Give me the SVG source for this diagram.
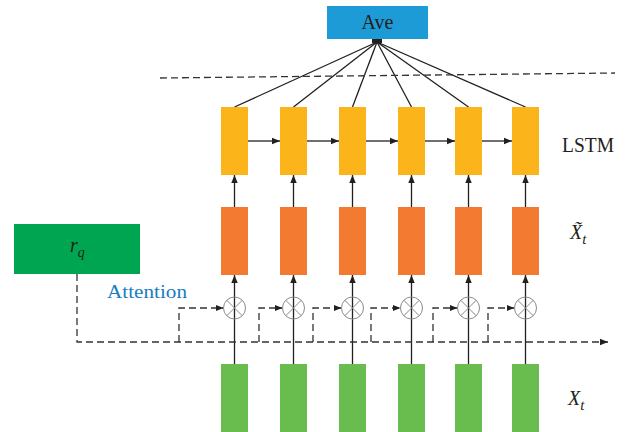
<svg xmlns="http://www.w3.org/2000/svg" width="630" height="432" viewBox="0 0 630 432">
<defs>
<marker id="ah" markerUnits="userSpaceOnUse" markerWidth="8" markerHeight="8" viewBox="0 0 8 8" refX="8" refY="4" orient="auto">
<path d="M0,0.8 L8,4 L0,7.2 Z" fill="#231f20"/>
</marker>
</defs>
<style>
.lstm{fill:#fbb51b}
.xt{fill:#f37b31}
.in{fill:#69bd4f}
.ln{stroke:#231f20;stroke-width:1.3;fill:none}
.dash{stroke:#333;stroke-width:1.3;fill:none;stroke-dasharray:7 4}
.mul{stroke:#8a8a8a;stroke-width:1;fill:none}
.lbl{font-family:"Liberation Serif",serif;fill:#231f20}
</style>
<rect width="630" height="432" fill="#fff"/>

<g id="connectors">
  <line class="ln" x1="377" y1="42" x2="234.5" y2="107"/>
  <line class="ln" x1="377" y1="42" x2="293.5" y2="107"/>
  <line class="ln" x1="377" y1="42" x2="352.5" y2="107"/>
  <line class="ln" x1="377" y1="42" x2="411.5" y2="107"/>
  <line class="ln" x1="377" y1="42" x2="468.5" y2="107"/>
  <line class="ln" x1="377" y1="42" x2="525.5" y2="107"/>
  <rect x="372" y="39" width="10" height="4" fill="#231f20"/>
  <line class="dash" x1="160" y1="78" x2="615" y2="73" stroke-dasharray="10 5"/>
  <line class="ln" x1="248" y1="141" x2="280" y2="141" marker-end="url(#ah)"/>
  <line class="ln" x1="307" y1="141" x2="339" y2="141" marker-end="url(#ah)"/>
  <line class="ln" x1="366" y1="141" x2="398" y2="141" marker-end="url(#ah)"/>
  <line class="ln" x1="425" y1="141" x2="455" y2="141" marker-end="url(#ah)"/>
  <line class="ln" x1="482" y1="141" x2="512" y2="141" marker-end="url(#ah)"/>
  <line class="ln" x1="234.5" y1="207" x2="234.5" y2="175" marker-end="url(#ah)"/>
  <line class="ln" x1="293.5" y1="207" x2="293.5" y2="175" marker-end="url(#ah)"/>
  <line class="ln" x1="352.5" y1="207" x2="352.5" y2="175" marker-end="url(#ah)"/>
  <line class="ln" x1="411.5" y1="207" x2="411.5" y2="175" marker-end="url(#ah)"/>
  <line class="ln" x1="468.5" y1="207" x2="468.5" y2="175" marker-end="url(#ah)"/>
  <line class="ln" x1="525.5" y1="207" x2="525.5" y2="175" marker-end="url(#ah)"/>
  <line class="ln" x1="234.5" y1="364" x2="234.5" y2="275" marker-end="url(#ah)"/>
  <line class="ln" x1="293.5" y1="364" x2="293.5" y2="275" marker-end="url(#ah)"/>
  <line class="ln" x1="352.5" y1="364" x2="352.5" y2="275" marker-end="url(#ah)"/>
  <line class="ln" x1="411.5" y1="364" x2="411.5" y2="275" marker-end="url(#ah)"/>
  <line class="ln" x1="468.5" y1="364" x2="468.5" y2="275" marker-end="url(#ah)"/>
  <line class="ln" x1="525.5" y1="364" x2="525.5" y2="275" marker-end="url(#ah)"/>
  <path class="dash" d="M77,274 V342 H608" marker-end="url(#ah)"/>
  <path class="dash" d="M179,342 V308 H223.5" marker-end="url(#ah)"/>
  <path class="dash" d="M259,342 V308 H282.5" marker-end="url(#ah)"/>
  <path class="dash" d="M313,342 V308 H341.5" marker-end="url(#ah)"/>
  <path class="dash" d="M371,342 V308 H400.5" marker-end="url(#ah)"/>
  <path class="dash" d="M433,342 V308 H457.5" marker-end="url(#ah)"/>
  <path class="dash" d="M488,342 V308 H514.5" marker-end="url(#ah)"/>
</g>

<g id="ave">
  <rect x="327" y="6" width="101" height="33" fill="#1c9bd7"/>
  <text class="lbl" x="377.5" y="28.5" font-size="20" text-anchor="middle">Ave</text>
</g>

<g id="lstm">
  <rect class="lstm" x="221" y="107" width="27" height="68"/>
  <rect class="lstm" x="280" y="107" width="27" height="68"/>
  <rect class="lstm" x="339" y="107" width="27" height="68"/>
  <rect class="lstm" x="398" y="107" width="27" height="68"/>
  <rect class="lstm" x="455" y="107" width="27" height="68"/>
  <rect class="lstm" x="512" y="107" width="27" height="68"/>
</g>

<g id="xtilde">
  <rect class="xt" x="221" y="207" width="27" height="68"/>
  <rect class="xt" x="280" y="207" width="27" height="68"/>
  <rect class="xt" x="339" y="207" width="27" height="68"/>
  <rect class="xt" x="398" y="207" width="27" height="68"/>
  <rect class="xt" x="455" y="207" width="27" height="68"/>
  <rect class="xt" x="512" y="207" width="27" height="68"/>
</g>

<g id="inputs">
  <rect class="in" x="221" y="364" width="27" height="68"/>
  <rect class="in" x="280" y="364" width="27" height="68"/>
  <rect class="in" x="339" y="364" width="27" height="68"/>
  <rect class="in" x="398" y="364" width="27" height="68"/>
  <rect class="in" x="455" y="364" width="27" height="68"/>
  <rect class="in" x="512" y="364" width="27" height="68"/>
</g>

<g id="multipliers">
  <g transform="translate(234.5,308)"><circle class="mul" r="11"/><path class="mul" d="M-7.8,-7.8 L7.8,7.8 M7.8,-7.8 L-7.8,7.8"/></g>
  <g transform="translate(293.5,308)"><circle class="mul" r="11"/><path class="mul" d="M-7.8,-7.8 L7.8,7.8 M7.8,-7.8 L-7.8,7.8"/></g>
  <g transform="translate(352.5,308)"><circle class="mul" r="11"/><path class="mul" d="M-7.8,-7.8 L7.8,7.8 M7.8,-7.8 L-7.8,7.8"/></g>
  <g transform="translate(411.5,308)"><circle class="mul" r="11"/><path class="mul" d="M-7.8,-7.8 L7.8,7.8 M7.8,-7.8 L-7.8,7.8"/></g>
  <g transform="translate(468.5,308)"><circle class="mul" r="11"/><path class="mul" d="M-7.8,-7.8 L7.8,7.8 M7.8,-7.8 L-7.8,7.8"/></g>
  <g transform="translate(525.5,308)"><circle class="mul" r="11"/><path class="mul" d="M-7.8,-7.8 L7.8,7.8 M7.8,-7.8 L-7.8,7.8"/></g>
</g>

<g id="rq">
  <rect x="14" y="224" width="126" height="50" fill="#00a551"/>
  <text class="lbl" x="70" y="252" font-size="20" font-style="italic">r<tspan font-size="14" dy="5">q</tspan></text>
</g>

<g id="attention-label">
  <text x="107" y="298" font-family="Liberation Serif, serif" font-size="19" fill="#1a7dc1" textLength="80" lengthAdjust="spacingAndGlyphs">Attention</text>
</g>

<g id="labels">
  <text class="lbl" x="562" y="152" font-size="20" textLength="52" lengthAdjust="spacingAndGlyphs">LSTM</text>
  <text class="lbl" x="570" y="239" font-size="20" font-style="italic">X&#x303;<tspan font-size="15" dy="5">t</tspan></text>
  <text class="lbl" x="568" y="405" font-size="20" font-style="italic">X<tspan font-size="15" dy="5">t</tspan></text>
</g>
</svg>
